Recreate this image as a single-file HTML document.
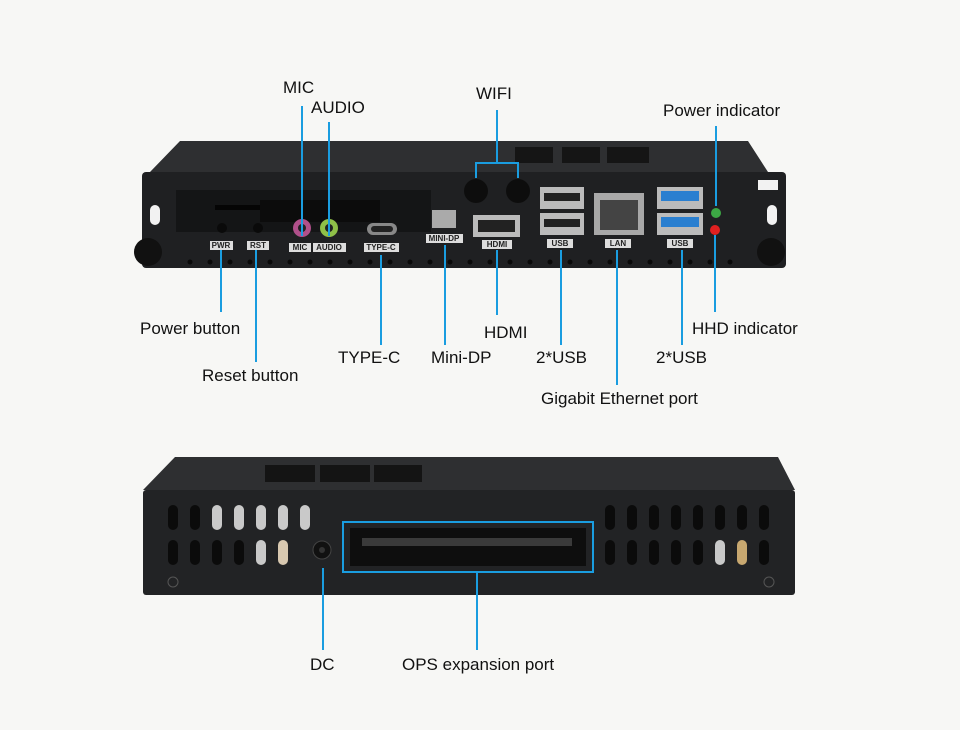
<!DOCTYPE html>
<html><head><meta charset="utf-8"><style>
html,body{margin:0;padding:0;background:#f7f7f5;}
svg{display:block}
text{font-family:"Liberation Sans",sans-serif;font-size:17px;fill:#111;}
.l{stroke:#1a9de0;stroke-width:2;fill:none}
.lb{font-size:8px;font-weight:bold;fill:#222}
</style></head><body>
<svg width="960" height="730" viewBox="0 0 960 730">
<rect width="960" height="730" fill="#f7f7f5"/>
<!-- TOP DEVICE -->
<polygon points="180,141 748,141 768,172 150,172" fill="#2e2f31"/>
<g fill="#151515">
<rect x="515" y="147" width="38" height="16"/><rect x="562" y="147" width="38" height="16"/><rect x="607" y="147" width="42" height="16"/>
</g>
<rect x="142" y="172" width="644" height="96" rx="4" fill="#1f2022"/>
<rect x="176" y="190" width="255" height="42" fill="#141516"/>
<rect x="215" y="205" width="55" height="5" fill="#050505"/>
<rect x="260" y="200" width="120" height="22" fill="#0c0c0c"/>
<rect x="150" y="205" width="10" height="20" rx="5" fill="#f2f2f2"/>
<rect x="767" y="205" width="10" height="20" rx="5" fill="#f2f2f2"/>
<rect x="758" y="180" width="20" height="10" fill="#f2f2f2"/>
<circle cx="148" cy="252" r="14" fill="#111"/><circle cx="771" cy="252" r="14" fill="#111"/>
<g fill="#0a0a0a">
<circle cx="222" cy="228" r="5"/><circle cx="258" cy="228" r="5"/>
</g>
<circle cx="302" cy="228" r="9" fill="#b0508a"/><circle cx="302" cy="228" r="4" fill="#222"/>
<circle cx="329" cy="228" r="9" fill="#8fc048"/><circle cx="329" cy="228" r="4" fill="#222"/>
<rect x="367" y="223" width="30" height="12" rx="6" fill="#888"/><rect x="371" y="226" width="22" height="6" rx="3" fill="#222"/>
<rect x="432" y="210" width="24" height="18" fill="#aaa"/>
<circle cx="476" cy="191" r="12" fill="#0d0d0d"/><circle cx="518" cy="191" r="12" fill="#0d0d0d"/>
<rect x="473" y="215" width="47" height="22" fill="#bbb"/><rect x="478" y="220" width="37" height="12" fill="#222"/>
<rect x="540" y="187" width="44" height="22" fill="#bbb"/><rect x="540" y="213" width="44" height="22" fill="#bbb"/>
<rect x="544" y="193" width="36" height="8" fill="#222"/><rect x="544" y="219" width="36" height="8" fill="#222"/>
<rect x="594" y="193" width="50" height="42" fill="#a8a8a8"/><rect x="600" y="200" width="38" height="30" fill="#444"/>
<rect x="657" y="187" width="46" height="22" fill="#bbb"/><rect x="657" y="213" width="46" height="22" fill="#bbb"/>
<rect x="661" y="191" width="38" height="10" fill="#2a7fd0"/><rect x="661" y="217" width="38" height="10" fill="#2a7fd0"/>
<circle cx="716" cy="213" r="5" fill="#3ca845"/><circle cx="715" cy="230" r="5" fill="#e02020"/>
<g fill="#ddd">
<rect x="210" y="241" width="23" height="9"/><rect x="247" y="241" width="22" height="9"/>
<rect x="289" y="243" width="22" height="9"/><rect x="313" y="243" width="33" height="9"/>
<rect x="364" y="243" width="35" height="9"/><rect x="426" y="234" width="37" height="9"/>
<rect x="482" y="240" width="30" height="9"/><rect x="547" y="239" width="26" height="9"/>
<rect x="605" y="239" width="26" height="9"/><rect x="667" y="239" width="26" height="9"/>
</g>
<g class="lb" text-anchor="middle" style="font-size:7.5px">
<text x="221" y="248" class="lb">PWR</text><text x="258" y="248" class="lb">RST</text>
<text x="300" y="250" class="lb">MIC</text><text x="329" y="250" class="lb">AUDIO</text>
<text x="381" y="250" class="lb">TYPE-C</text><text x="444" y="241" class="lb">MINI-DP</text>
<text x="497" y="247" class="lb">HDMI</text><text x="560" y="246" class="lb">USB</text>
<text x="618" y="246" class="lb">LAN</text><text x="680" y="246" class="lb">USB</text>
</g>
<g fill="#090909">
<circle cx="190" cy="262" r="2.5"/><circle cx="210" cy="262" r="2.5"/><circle cx="230" cy="262" r="2.5"/><circle cx="250" cy="262" r="2.5"/><circle cx="270" cy="262" r="2.5"/><circle cx="290" cy="262" r="2.5"/><circle cx="310" cy="262" r="2.5"/><circle cx="330" cy="262" r="2.5"/><circle cx="350" cy="262" r="2.5"/><circle cx="370" cy="262" r="2.5"/><circle cx="390" cy="262" r="2.5"/><circle cx="410" cy="262" r="2.5"/><circle cx="430" cy="262" r="2.5"/><circle cx="450" cy="262" r="2.5"/><circle cx="470" cy="262" r="2.5"/><circle cx="490" cy="262" r="2.5"/><circle cx="510" cy="262" r="2.5"/><circle cx="530" cy="262" r="2.5"/><circle cx="550" cy="262" r="2.5"/><circle cx="570" cy="262" r="2.5"/><circle cx="590" cy="262" r="2.5"/><circle cx="610" cy="262" r="2.5"/><circle cx="630" cy="262" r="2.5"/><circle cx="650" cy="262" r="2.5"/><circle cx="670" cy="262" r="2.5"/><circle cx="690" cy="262" r="2.5"/><circle cx="710" cy="262" r="2.5"/><circle cx="730" cy="262" r="2.5"/>
</g>
<!-- lines top -->
<path class="l" d="M302 106V236M329 122V236M497 110V163M476 178V163H518V178M716 126V206M221 250V312M256 250V362M381 255V345M445 245V345M497 250V315M561 250V345M617 250V385M682 250V345M715 235V312"/>
<text x="283" y="93">MIC</text><text x="311" y="113">AUDIO</text><text x="476" y="99">WIFI</text>
<text x="663" y="116">Power indicator</text>
<text x="140" y="334">Power button</text><text x="202" y="381">Reset button</text>
<text x="338" y="363">TYPE-C</text><text x="431" y="363">Mini-DP</text><text x="484" y="338">HDMI</text>
<text x="536" y="363">2*USB</text><text x="541" y="404">Gigabit Ethernet port</text>
<text x="656" y="363">2*USB</text><text x="692" y="334">HHD indicator</text>
<!-- BOTTOM DEVICE -->
<polygon points="175,457 778,457 795,490 143,490" fill="#2e2f31"/>
<g fill="#141414"><rect x="265" y="465" width="50" height="17"/><rect x="320" y="465" width="50" height="17"/><rect x="374" y="465" width="48" height="17"/></g>
<rect x="143" y="490" width="652" height="105" rx="3" fill="#222325"/>
<g fill="#0b0b0b">
<rect x="168" y="505" width="10" height="25" rx="5"/><rect x="190" y="505" width="10" height="25" rx="5"/>
<rect x="168" y="540" width="10" height="25" rx="5"/><rect x="190" y="540" width="10" height="25" rx="5"/><rect x="212" y="540" width="10" height="25" rx="5"/><rect x="234" y="540" width="10" height="25" rx="5"/>
<rect x="605" y="505" width="10" height="25" rx="5"/><rect x="627" y="505" width="10" height="25" rx="5"/><rect x="649" y="505" width="10" height="25" rx="5"/><rect x="671" y="505" width="10" height="25" rx="5"/><rect x="693" y="505" width="10" height="25" rx="5"/><rect x="715" y="505" width="10" height="25" rx="5"/><rect x="737" y="505" width="10" height="25" rx="5"/><rect x="759" y="505" width="10" height="25" rx="5"/>
<rect x="605" y="540" width="10" height="25" rx="5"/><rect x="627" y="540" width="10" height="25" rx="5"/><rect x="649" y="540" width="10" height="25" rx="5"/><rect x="671" y="540" width="10" height="25" rx="5"/><rect x="693" y="540" width="10" height="25" rx="5"/><rect x="759" y="540" width="10" height="25" rx="5"/>
</g>
<g fill="#c9c9c9">
<rect x="212" y="505" width="10" height="25" rx="5"/><rect x="234" y="505" width="10" height="25" rx="5"/><rect x="256" y="505" width="10" height="25" rx="5"/><rect x="278" y="505" width="10" height="25" rx="5"/><rect x="300" y="505" width="10" height="25" rx="5"/>
<rect x="256" y="540" width="10" height="25" rx="5"/><rect x="278" y="540" width="10" height="25" rx="5" fill="#d8c8b0"/>
<rect x="715" y="540" width="10" height="25" rx="5"/><rect x="737" y="540" width="10" height="25" rx="5" fill="#c8a870"/>
</g>
<circle cx="322" cy="550" r="9" fill="#111" stroke="#444"/><circle cx="322" cy="550" r="3" fill="#333"/>
<rect x="350" y="528" width="236" height="38" fill="#0e0e0e"/>
<rect x="362" y="538" width="210" height="8" fill="#3a3a3a"/>
<circle cx="173" cy="582" r="5" fill="none" stroke="#555"/><circle cx="769" cy="582" r="5" fill="none" stroke="#555"/>
<rect class="l" x="343" y="522" width="250" height="50"/>
<path class="l" d="M323 568V650M477 572V650"/>
<text x="310" y="670">DC</text><text x="402" y="670">OPS expansion port</text>
</svg>
</body></html>
